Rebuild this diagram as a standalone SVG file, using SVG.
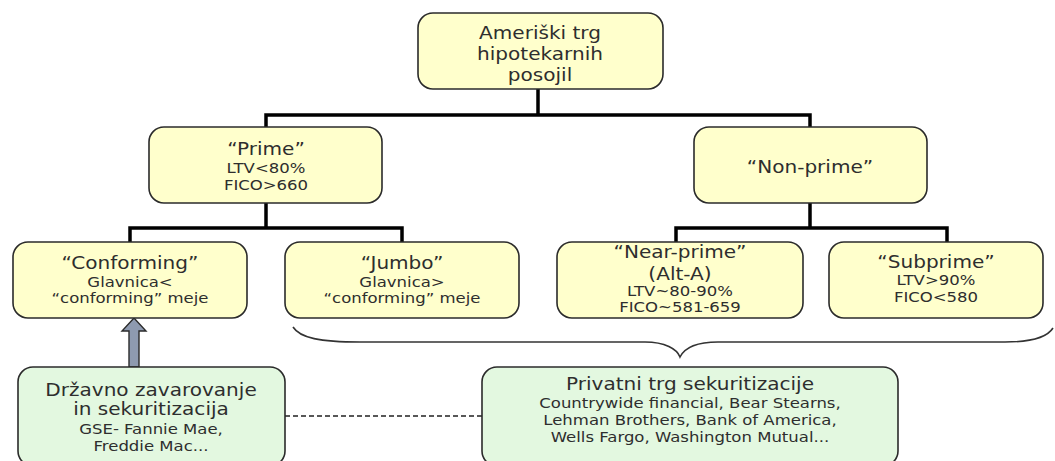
<svg xmlns="http://www.w3.org/2000/svg" width="1055" height="461" viewBox="0 0 1055 461">
<style>
.y{fill:#FFFFCC;stroke:#2b2b2b;stroke-width:1.6}
.g{fill:#E3F8E0;stroke:#2b2b2b;stroke-width:1.6}
text{font-family:"DejaVu Sans",Verdana,sans-serif;fill:#2e2e2e;text-anchor:middle}
.L{font-size:17px}
.S{font-size:14px}
.c{stroke:#000;stroke-width:3.5;fill:none}
</style>
<rect width="1055" height="461" fill="#fff"/>
<g id="connectors">
<path class="c" d="M538,89V115M266,127V115H810V127"/>
<path class="c" d="M266,203V228M130,242V228H402V242"/>
<path class="c" d="M810,203V228M676,242V228H947V242"/>
<path d="M293,327C300,338 320,342 360,342L645,342C665,342 677,349 680,357C684,349 695,342 718,342L1005,342C1035,342 1048,336 1053,328" fill="none" stroke="#333" stroke-width="1.6"/>
<path d="M285,416H482" stroke="#222" stroke-width="1.6" stroke-dasharray="5,3"/>
<path d="M129,367V331H122L134,318L146,331H139V367Z" fill="#8E9AB0" stroke="#2b2b2b" stroke-width="1.4"/>
</g>
<g id="root">
<rect class="y" x="418" y="13" width="245" height="76" rx="15"/>
<g transform="translate(540,0) scale(1.18,1)">
<text class="L" x="0" y="39">Ameriški trg</text>
<text class="L" x="0" y="60">hipotekarnih</text>
<text class="L" x="0" y="81">posojil</text>
</g>
</g>
<g id="prime">
<rect class="y" x="149" y="127" width="233" height="76" rx="15"/>
<g transform="translate(266,0) scale(1.18,1)">
<text class="L" x="0" y="155">“Prime”</text>
<text class="S" x="0" y="173">LTV&lt;80%</text>
<text class="S" x="0" y="190">FICO&gt;660</text>
</g>
</g>
<g id="nonprime">
<rect class="y" x="694" y="127" width="233" height="76" rx="15"/>
<g transform="translate(810,0) scale(1.18,1)">
<text class="L" x="0" y="173">“Non-prime”</text>
</g>
</g>
<g id="conforming">
<rect class="y" x="13" y="242" width="234" height="76" rx="15"/>
<g transform="translate(130,0) scale(1.18,1)">
<text class="L" x="0" y="269">“Conforming”</text>
<text class="S" x="0" y="287">Glavnica&lt;</text>
<text class="S" x="0" y="303">“conforming” meje</text>
</g>
</g>
<g id="jumbo">
<rect class="y" x="285" y="242" width="234" height="76" rx="15"/>
<g transform="translate(402,0) scale(1.18,1)">
<text class="L" x="0" y="269">“Jumbo”</text>
<text class="S" x="0" y="287">Glavnica&gt;</text>
<text class="S" x="0" y="303">“conforming” meje</text>
</g>
</g>
<g id="nearprime">
<rect class="y" x="557" y="242" width="246" height="76" rx="15"/>
<g transform="translate(680,0) scale(1.18,1)">
<text class="L" x="0" y="258">“Near-prime”</text>
<text class="L" x="0" y="280">(Alt-A)</text>
<text class="S" x="0" y="296">LTV~80-90%</text>
<text class="S" x="0" y="312">FICO~581-659</text>
</g>
</g>
<g id="subprime">
<rect class="y" x="829" y="242" width="214" height="76" rx="15"/>
<g transform="translate(936,0) scale(1.18,1)">
<text class="L" x="0" y="268">“Subprime”</text>
<text class="S" x="0" y="285">LTV&gt;90%</text>
<text class="S" x="0" y="302">FICO&lt;580</text>
</g>
</g>
<g id="drzavno">
<rect class="g" x="18" y="367" width="267" height="99" rx="15"/>
<g transform="translate(151,0) scale(1.18,1)">
<text class="L" x="0" y="396">Državno zavarovanje</text>
<text class="L" x="0" y="415">in sekuritizacija</text>
<text class="S" x="0" y="434">GSE- Fannie Mae,</text>
<text class="S" x="0" y="451">Freddie Mac...</text>
</g>
</g>
<g id="privatni">
<rect class="g" x="482" y="367" width="416" height="99" rx="15"/>
<g transform="translate(690,0) scale(1.18,1)">
<text class="L" x="0" y="390">Privatni trg sekuritizacije</text>
<text class="S" x="0" y="408">Countrywide financial, Bear Stearns,</text>
<text class="S" x="0" y="425">Lehman Brothers, Bank of America,</text>
<text class="S" x="0" y="442">Wells Fargo, Washington Mutual...</text>
</g>
</g>
</svg>
